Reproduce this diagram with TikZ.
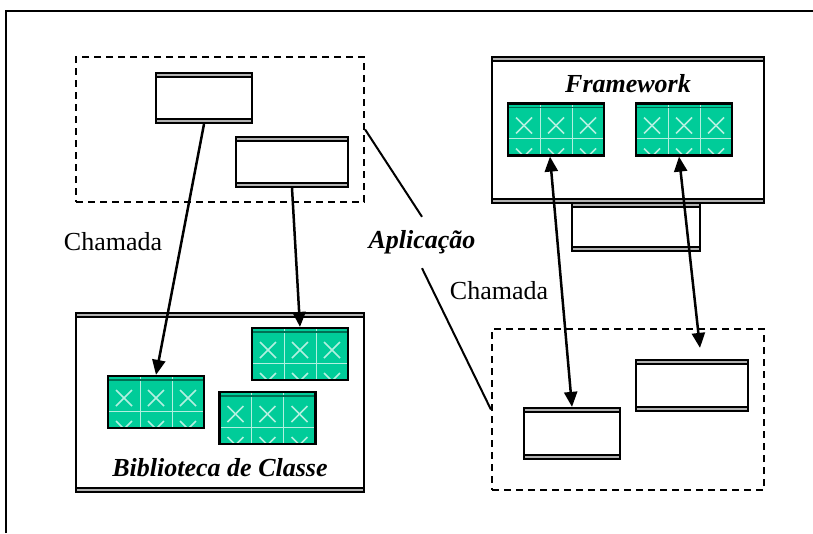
\documentclass[tikz,border=0pt]{standalone}
\usepackage{fontspec}
\setmainfont{Liberation Serif}
\usetikzlibrary{arrows.meta}
\definecolor{verde}{RGB}{0,204,153}
\colorlet{verdeclaro}{verde!30!white}
\colorlet{verdeescuro}{verde!55!black}
\tikzset{
  >={Triangle[length=15pt,width=13pt]},
  rotulo/.style={font=\fontsize{26}{31}\selectfont},
  titulo/.style={rotulo,font=\fontsize{26}{31}\selectfont\bfseries\itshape},
  % white box with double top and bottom edge
  janela/.style 2 args={draw,line width=2.2pt,inner sep=0,fill=white,
    minimum width=#1,minimum height=#2,
    path picture={
      \fill[gray!60] (path picture bounding box.north west) rectangle ([yshift=-3.5pt]path picture bounding box.north east);
      \draw[line width=1.2pt] ([yshift=-4pt]path picture bounding box.north west) -- ([yshift=-4pt]path picture bounding box.north east);
      \fill[gray!60] (path picture bounding box.south west) rectangle ([yshift=3.5pt]path picture bounding box.south east);
      \draw[line width=1.2pt] ([yshift=4pt]path picture bounding box.south west) -- ([yshift=4pt]path picture bounding box.south east);
    }},
  tracejado/.style 2 args={draw,line width=2.2pt,dash pattern=on 7pt off 5pt,
    inner sep=0,minimum width=#1,minimum height=#2},
  % green class box (3 x 2 cells)
  grade/.style={draw,line width=2.2pt,inner sep=0,fill=verde,
    minimum width=96pt,minimum height=52pt,
    path picture={
      \foreach \i in {1,2}
        \draw[verdeclaro,line width=1pt] ([xshift=\i*32pt]path picture bounding box.north west) -- ([xshift=\i*32pt]path picture bounding box.south west);
      \draw[verdeclaro,line width=1pt] ([yshift=17pt]path picture bounding box.south west) -- ([yshift=17pt]path picture bounding box.south east);
      \foreach \x in {16,48,80}
        \foreach \y in {22,53}
        {\draw[verdeclaro,line width=1.6pt] ([shift={(\x pt-8pt,-\y pt+8pt)}]path picture bounding box.north west) -- ([shift={(\x pt+8pt,-\y pt-8pt)}]path picture bounding box.north west);
         \draw[verdeclaro,line width=1.6pt] ([shift={(\x pt-8pt,-\y pt-8pt)}]path picture bounding box.north west) -- ([shift={(\x pt+8pt,-\y pt+8pt)}]path picture bounding box.north west);}
      \draw[verdeescuro,line width=1.2pt] ([yshift=-4pt]path picture bounding box.north west) -- ([yshift=-4pt]path picture bounding box.north east);
    }},
  seta/.style={line width=2.5pt,->},
  seta dupla/.style={line width=2.5pt,<->},
  ligacao/.style={line width=2pt}
}

\begin{document}
\begin{tikzpicture}[x={(1pt,0)},y={(0,-1pt)}]
\useasboundingbox (0,0) rectangle (813,533);
% frame
\draw[line width=2pt] (6,533) -- (6,11) -- (813,11);

% application (left)
\node[tracejado={288pt}{145pt}] (aplA) at (220,129.5) {};
\node[janela={96pt}{50pt}] (jan1) at (204,98) {};
\node[janela={112pt}{50pt}] (jan2) at (292,162) {};

% class library
\node[janela={288pt}{179pt}] (bib) at (220,402.5) {};
\node[grade] (L1) at (156,402) {};
\node[grade] (L2) at (300,354) {};
\node[grade] (L3) at (267.5,418) {};
\node[titulo] (tbib) at (220,468) {Biblioteca de Classe};

% framework
\node[janela={128pt}{48pt}] (aba) at (636,227) {};
\node[janela={272pt}{146pt}] (frm) at (628,130) {};
\node[titulo] (tfrm) at (628,84) {Framework};
\node[grade] (F1) at (556,129.5) {};
\node[grade] (F2) at (684,129.5) {};

% application (right)
\node[tracejado={272pt}{161pt}] (aplB) at (628,409.5) {};
\node[janela={96pt}{51pt}] (R1) at (572,433.5) {};
\node[janela={112pt}{51pt}] (R2) at (692,385.5) {};

% labels
\node[titulo,minimum height=51pt,inner sep=0] (apl) at (422,242.5) {Aplicação};
\node[rotulo] (cham1) at (113,242) {Chamada};
\node[rotulo] (cham2) at (499,291) {Chamada};

% connections
\draw[ligacao] (aplA.east) -- (apl.north);
\draw[ligacao] (apl.south) -- (aplB.west);
\draw[seta] (jan1.south) -- (L1.north);
\draw[seta] (jan2.south) -- (L2.north);
\draw[seta dupla] ([xshift=-6pt]F1.south) -- (R1.north);
\draw[seta dupla] ([xshift=-5pt]F2.south) -- ([xshift=8pt,yshift=11pt]R2.north);
\end{tikzpicture}
\end{document}
